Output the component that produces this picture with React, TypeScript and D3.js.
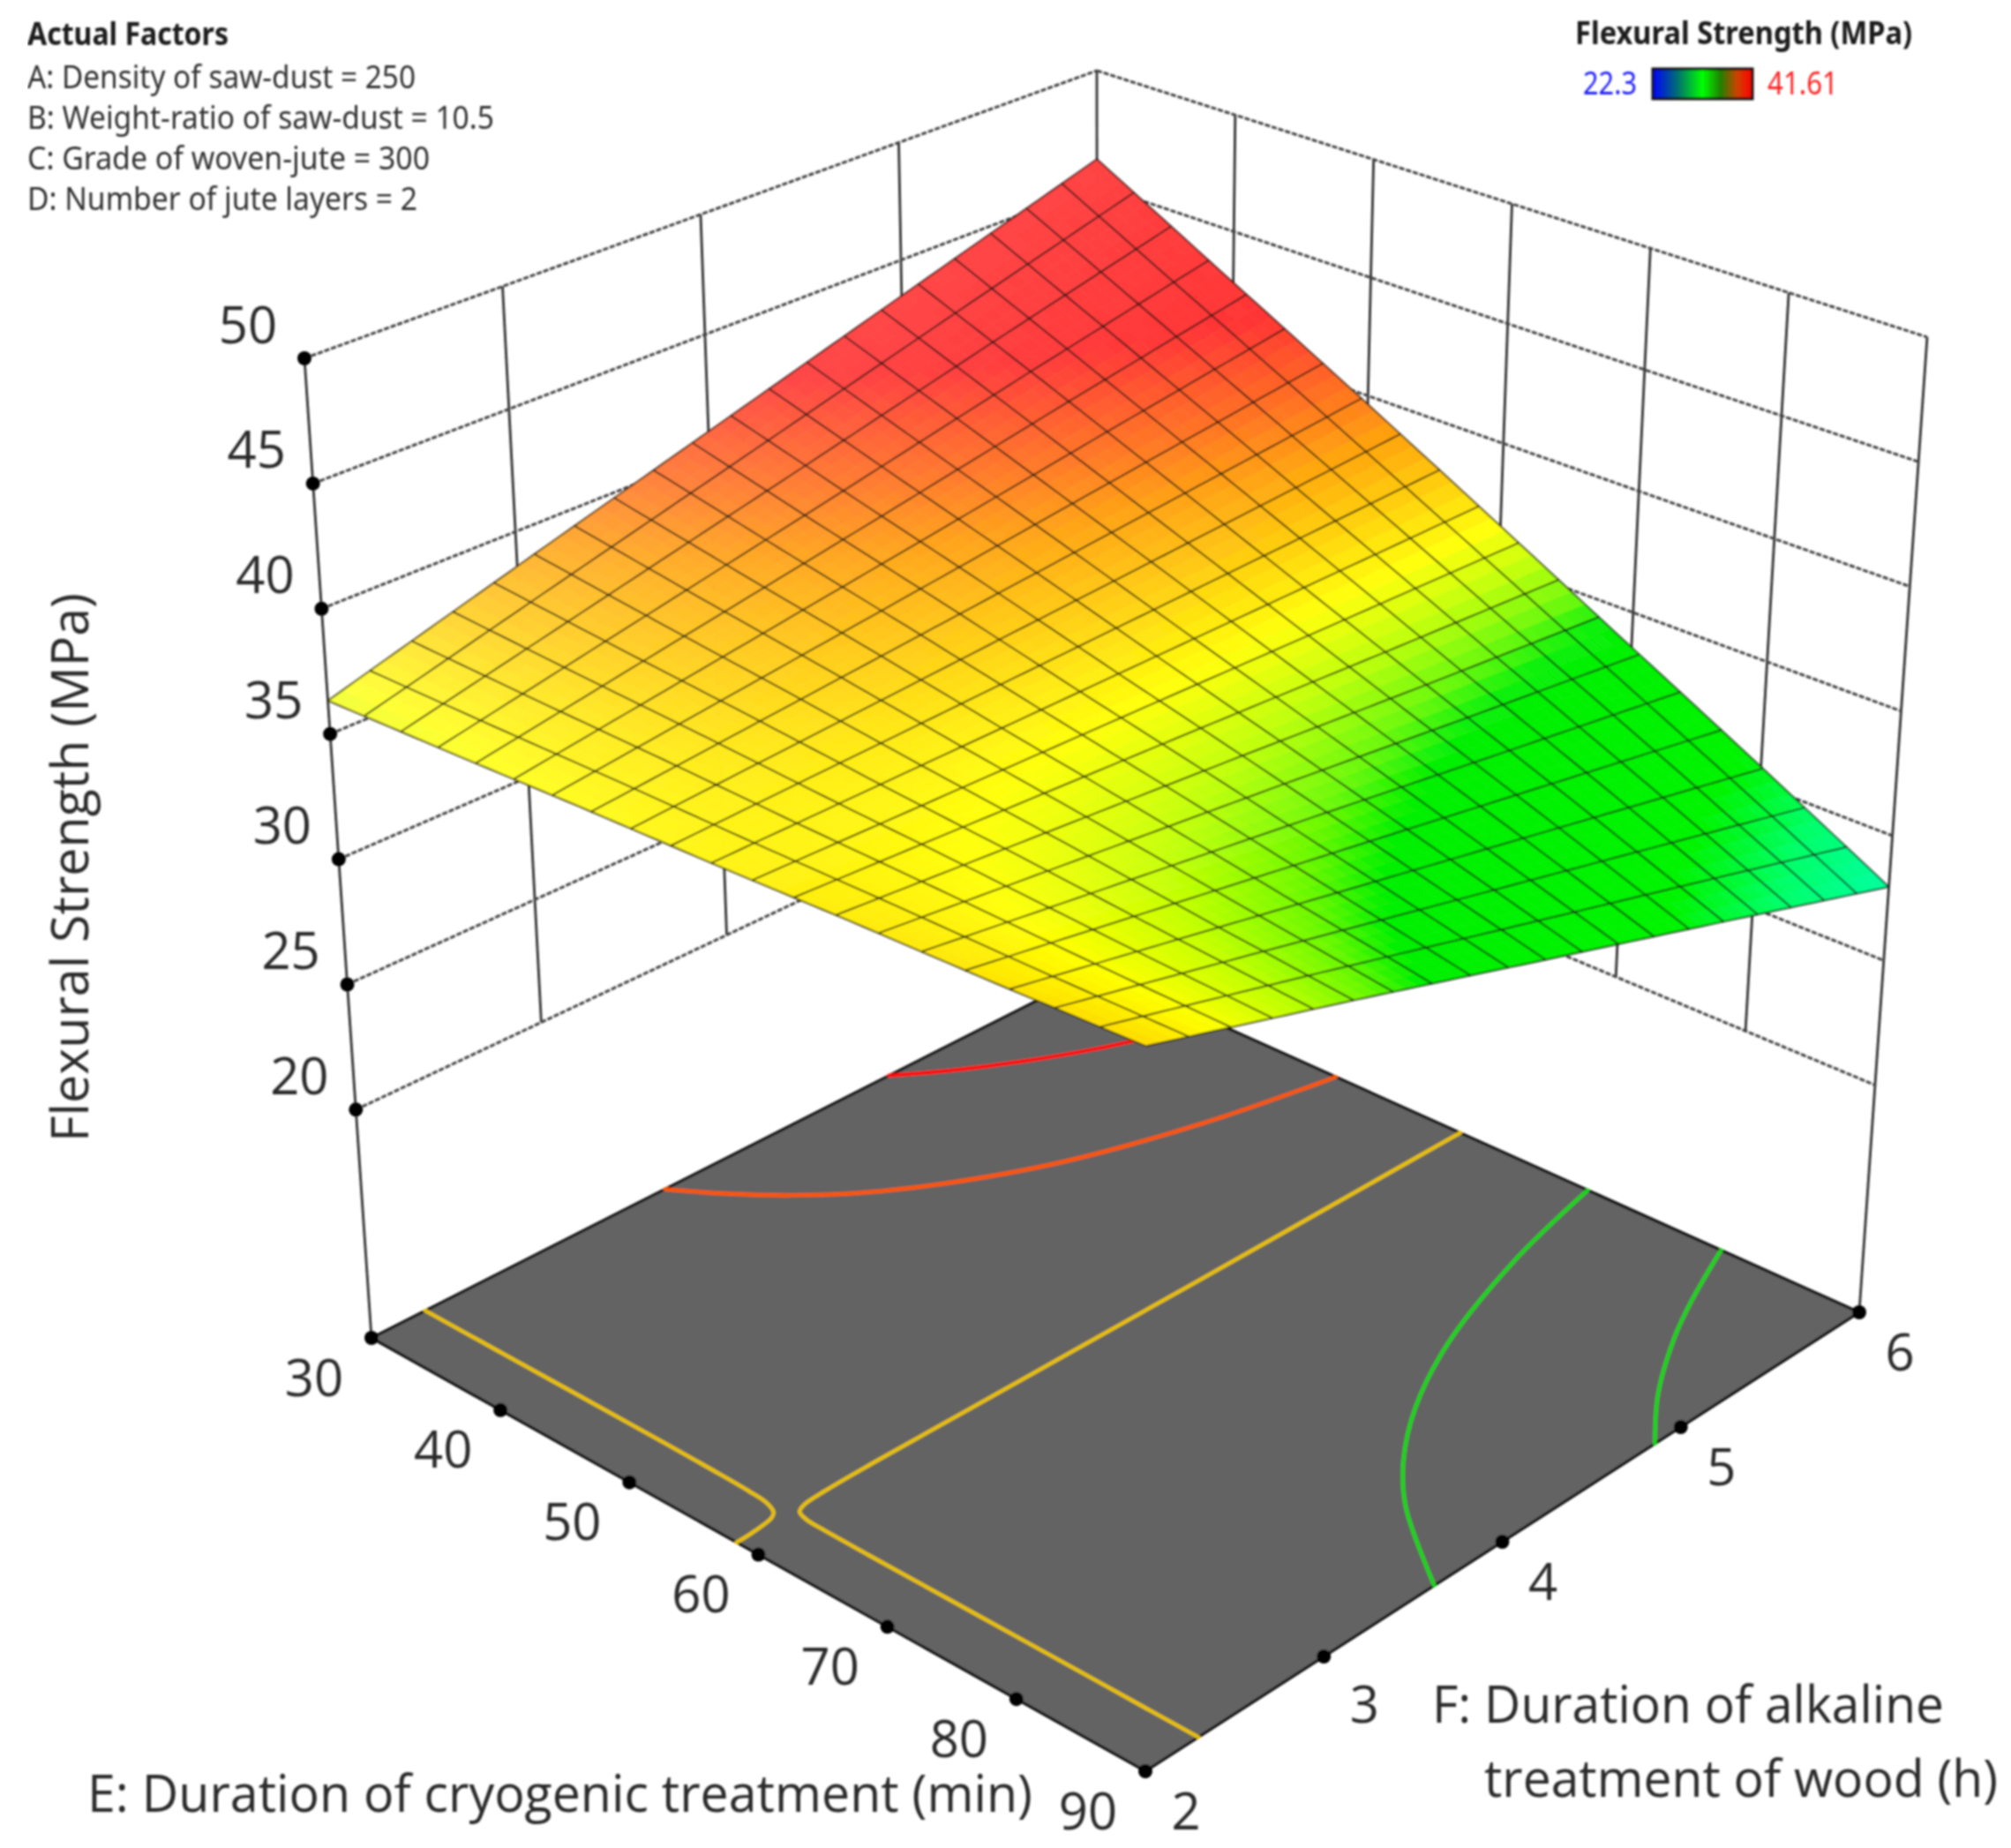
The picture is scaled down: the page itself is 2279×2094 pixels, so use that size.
import React from 'react'
import * as d3 from 'd3'

// axis ticks
const eTicks = [30, 40, 50, 60, 70, 80, 90]
const fTicks = [2, 3, 4, 5, 6]
const zTicks = [20, 25, 30, 35, 40, 45, 50]

// surface height read at the tick crossings, one list per F tick, E going 30 -> 90
const zAtF2 = [36.33, 36.5, 36.7, 36.85, 37.05, 37.2, 37.4]
const zAtF3 = [38.8, 38.15, 37.55, 36.9, 36.3, 35.65, 35.05]
const zAtF4 = [41.25, 39.8, 38.4, 36.95, 35.55, 34.1, 32.65]
const zAtF5 = [43.7, 41.5, 39.25, 37.0, 34.75, 32.55, 30.3]
const zAtF6 = [46.15, 43.1, 40.1, 37.05, 34.0, 31.0, 27.95]
const surfaceRows = [zAtF2, zAtF3, zAtF4, zAtF5, zAtF6]

// floor contours as [E, F] pairs
const contourRed = [[30, 4.756], [32.4, 4.968], [34.8, 5.224], [37.2, 5.534], [40.08, 6]]
const contourOrange = [[30, 3.51], [33, 3.65], [36, 3.82], [39, 4.04], [42, 4.34], [45, 4.74], [48, 5.35], [49.8, 5.89], [50.1, 6]]
const contourYellowLeft = [[30, 2.267], [36, 2.266], [42, 2.266], [48, 2.265], [54, 2.262], [57, 2.257], [58.5, 2.248], [59.4, 2.224], [59.7, 2.196], [60, 2.076], [60.05, 2]]
const contourYellowRight = [[60.1, 6], [60.05, 4.4], [59.95, 3.2], [59.9, 2.7], [59.95, 2.45], [60.1, 2.33], [60.4, 2.29], [61.2, 2.272], [62.5, 2.268], [66, 2.266], [78, 2.266], [90, 2.264]]
const contourGreenA = [[90, 3.5], [84, 3.81], [81, 4.03], [78, 4.33], [75, 4.75], [72, 5.38], [70, 6]]
const contourGreenB = [[90, 4.75], [87, 5.02], [84, 5.37], [82.2, 5.63], [80, 6]]

const contours = [
  { points: contourRed, color: '#ff1010' },
  { points: contourOrange, color: '#ff5500' },
  { points: contourYellowLeft, color: '#e8c000' },
  { points: contourYellowRight, color: '#e8c000' },
  { points: contourGreenA, color: '#14d814' },
  { points: contourGreenB, color: '#14d814' },
]

// surface colour ramp
const rampValues = [28, 29.6, 31, 34.2, 34.8, 35.7, 36.6, 37.7, 39, 40, 41.9, 46]
const rampColors = ['#00ffa0', '#00ff66', '#00f400', '#00f000', '#66f800', '#bfff00', '#ffff00', '#ffcc00', '#ff9900', '#ff6a10', '#ff2222', '#ff2a2a']

const factorLines = [
  'A: Density of saw-dust = 250',
  'B: Weight-ratio of saw-dust = 10.5',
  'C: Grade of woven-jute = 300',
  'D: Number of jute layers = 2',
]
const factorWidths = [440, 529, 456, 442]

// box corners in the picture: floor, and the plane at z = 50
const FLOOR = { left: [421, 1516], front: [1298, 2007], right: [2107, 1487], back: [1244, 1099] }
const TOP = { left: [345, 406], front: [1299, 795], right: [2184, 382], back: [1243, 80] }

const lerp = (a, b, t) => a + (b - a) * t
const mix = (p, q, t) => [lerp(p[0], q[0], t), lerp(p[1], q[1], t)]

// unit square -> quad
const homography = (p0, p1, p2, p3) => {
  const dx1 = p1[0] - p2[0], dx2 = p3[0] - p2[0], sx = p0[0] - p1[0] + p2[0] - p3[0]
  const dy1 = p1[1] - p2[1], dy2 = p3[1] - p2[1], sy = p0[1] - p1[1] + p2[1] - p3[1]
  const det = dx1 * dy2 - dx2 * dy1
  const g = (sx * dy2 - dx2 * sy) / det
  const h = (dx1 * sy - sx * dy1) / det
  const a = p1[0] - p0[0] + g * p1[0], b = p3[0] - p0[0] + h * p3[0]
  const d = p1[1] - p0[1] + g * p1[1], e = p3[1] - p0[1] + h * p3[1]
  return (u, v) => {
    const w = g * u + h * v + 1
    return [(a * u + b * v + p0[0]) / w, (d * u + e * v + p0[1]) / w]
  }
}

const floorAt = homography(FLOOR.left, FLOOR.front, FLOOR.right, FLOOR.back)
const topAt = homography(TOP.left, TOP.front, TOP.right, TOP.back)

const uScale = d3.scaleLinear().domain([30, 90]).range([0, 1])
const vScale = d3.scaleLinear().domain([2, 6]).range([0, 1])
const wScale = d3.scaleLinear().domain([20, 50]).range([0.233, 1])

// the mesh and contours follow the perspective
const project = (u, v, w) => mix(floorAt(u, v), topAt(u, v), w)

// the tick marks and wall lines are spaced evenly along the box edges
const edgeE = (e) => mix(FLOOR.left, FLOOR.front, uScale(e))
const edgeF = (f) => mix(FLOOR.front, FLOOR.right, vScale(f))
const leftWall = (f, w) => mix(mix(FLOOR.left, FLOOR.back, vScale(f)), mix(TOP.left, TOP.back, vScale(f)), w)
const rightWall = (e, w) => mix(mix(FLOOR.back, FLOOR.right, uScale(e)), mix(TOP.back, TOP.right, uScale(e)), w)

const rowScales = surfaceRows.map((row) => d3.scaleLinear().domain(eTicks).range(row))
const surfaceZ = (u, v) => {
  const e = uScale.invert(u)
  const f = vScale.invert(v)
  return d3.scaleLinear().domain(fTicks).range(rowScales.map((s) => s(e)))(f)
}

const colorScale = d3.scaleLinear().domain(rampValues).range(rampColors).interpolate(d3.interpolateRgb).clamp(true)

const surfaceColor = (u, v) => {
  const base = colorScale(surfaceZ(u, v))
  return d3.interpolateRgb(base, '#ffffff')((0.24 - 0.12 * v) * Math.pow(1 - u, 1.4))
}

const line = d3.line()
const smooth = d3.line().curve(d3.curveCatmullRom.alpha(0.5))

const N = 20
const SUB = 3

const Surface = () => {
  const cells = []
  const total = N * SUB
  const node = (i, j) => {
    const u = i / total, v = j / total
    return project(u, v, wScale(surfaceZ(u, v)))
  }
  for (let i = 0; i < total; i++) {
    for (let j = 0; j < total; j++) {
      const c = surfaceColor((i + 0.5) / total, (j + 0.5) / total)
      cells.push(
        <path
          key={`c${i}-${j}`}
          d={line([node(i, j), node(i + 1, j), node(i + 1, j + 1), node(i, j + 1)]) + 'Z'}
          fill={c}
          stroke={c}
          strokeWidth={0.7}
        />
      )
    }
  }
  const grid = []
  for (let k = 0; k <= N; k++) {
    const along = d3.range(0, total + 1)
    grid.push(<path key={`u${k}`} d={line(along.map((s) => node(k * SUB, s)))} />)
    grid.push(<path key={`v${k}`} d={line(along.map((s) => node(s, k * SUB)))} />)
  }
  return (
    <g>
      {cells}
      <g fill="none" stroke="#111" strokeOpacity={0.72} strokeWidth={2}>{grid}</g>
    </g>
  )
}

const Walls = () => {
  const zMin = wScale(20)
  return (
    <g fill="none">
      <g stroke="#333" strokeWidth={2.8}>
        {fTicks.slice(1, -1).map((f) => (
          <path key={`lw${f}`} d={line([leftWall(f, zMin), leftWall(f, 1)])} />
        ))}
        {eTicks.slice(1, -1).map((e) => (
          <path key={`rw${e}`} d={line([rightWall(e, zMin), rightWall(e, 1)])} />
        ))}
        <path d={line([FLOOR.back, TOP.back])} />
        <path d={line([FLOOR.left, TOP.left])} />
        <path d={line([FLOOR.right, TOP.right])} />
      </g>
      <g stroke="#444" strokeWidth={3} strokeDasharray="6 2">
        {zTicks.map((z) => (
          <g key={`zl${z}`}>
            <path d={line([leftWall(2, wScale(z)), leftWall(6, wScale(z))])} />
            <path d={line([rightWall(30, wScale(z)), rightWall(90, wScale(z))])} />
          </g>
        ))}
      </g>
    </g>
  )
}

const Floor = () => (
  <g>
    <path d={line([FLOOR.left, FLOOR.front, FLOOR.right, FLOOR.back]) + 'Z'} fill="#636363" stroke="#111" strokeWidth={3.2} />
    <g fill="none" strokeWidth={4.4} strokeLinecap="round">
      {contours.map((c, i) => (
        <path
          key={`contour${i}`}
          stroke={c.color}
          d={smooth(c.points.map(([e, f]) => floorAt(uScale(e), vScale(f))))}
        />
      ))}
    </g>
  </g>
)

const Dots = () => (
  <g fill="#000">
    {eTicks.map((e) => {
      const [x, y] = edgeE(e)
      return <circle key={`de${e}`} cx={x} cy={y} r={8} />
    })}
    {fTicks.slice(1).map((f) => {
      const [x, y] = edgeF(f)
      return <circle key={`df${f}`} cx={x} cy={y} r={8} />
    })}
    {zTicks.map((z) => {
      const [x, y] = leftWall(2, wScale(z))
      return <circle key={`dz${z}`} cx={x} cy={y} r={8} />
    })}
  </g>
)

const TICK_FONT = { fontFamily: '"Open Sans", sans-serif', fontSize: 58, fill: '#2a2a2a', textAnchor: 'middle', dominantBaseline: 'central' }

const TickLabels = () => (
  <g>
    {zTicks.map((z) => {
      const [x, y] = leftWall(2, wScale(z))
      return <text key={`tz${z}`} x={x - 64} y={y - 40} {...TICK_FONT}>{z}</text>
    })}
    {eTicks.map((e) => {
      const [x, y] = edgeE(e)
      return <text key={`te${e}`} x={x - 65} y={y + 43} {...TICK_FONT}>{e}</text>
    })}
    {fTicks.map((f) => {
      const [x, y] = edgeF(f)
      // the 3 sits a little lower than the others in the picture
      return <text key={`tf${f}`} x={x + 46} y={y + (f === 3 ? 52 : 43)} {...TICK_FONT}>{f}</text>
    })}
  </g>
)

const TITLE_FONT = { fontFamily: '"Open Sans", sans-serif', fontSize: 58, fill: '#2a2a2a', lengthAdjust: 'spacingAndGlyphs' }
const SMALL_FONT = { fontFamily: '"Noto Sans", sans-serif', fontSize: 36, fill: '#333', lengthAdjust: 'spacingAndGlyphs' }
const BOLD_FONT = { fontFamily: '"Noto Sans", sans-serif', fontSize: 35, fontWeight: 700, fill: '#1a1a1a', lengthAdjust: 'spacingAndGlyphs' }

const Titles = () => (
  <g>
    <text x={99} y={2053} textLength={1071} {...TITLE_FONT}>E: Duration of cryogenic treatment (min)</text>
    <text x={1623} y={1952} textLength={580} {...TITLE_FONT}>F: Duration of alkaline</text>
    <text x={1682} y={2036} textLength={582} {...TITLE_FONT}>treatment of wood (h)</text>
    <text transform="translate(100,1294) rotate(-90)" textLength={622} {...TITLE_FONT}>Flexural Strength (MPa)</text>
  </g>
)

const Notes = () => (
  <g filter="url(#softer)">
    <text x={31} y={51} textLength={228} {...BOLD_FONT}>Actual Factors</text>
    {factorLines.map((t, i) => (
      <text key={t} x={31} y={100 + i * 46} textLength={factorWidths[i]} {...SMALL_FONT}>{t}</text>
    ))}
    <text x={1785} y={50} textLength={382} {...BOLD_FONT}>Flexural Strength (MPa)</text>
    <text x={1794} y={107} textLength={61} {...SMALL_FONT} fill="#2222ff">22.3</text>
    <rect x={1873} y={78} width={113} height={34} fill="url(#legendRamp)" stroke="#111" strokeWidth={3} />
    <text x={2003} y={107} textLength={80} {...SMALL_FONT} fill="#ff2020">41.61</text>
  </g>
)

const App = () => (
  <svg width={2279} height={2094} style={{ position: 'absolute', left: 0, top: 0, background: '#fff' }}>
    <defs>
      <linearGradient id="legendRamp">
        <stop offset="0" stopColor="#0000ff" />
        <stop offset="0.25" stopColor="#007070" />
        <stop offset="0.5" stopColor="#00ff00" />
        <stop offset="0.68" stopColor="#208000" />
        <stop offset="0.85" stopColor="#d04000" />
        <stop offset="1" stopColor="#ff0000" />
      </linearGradient>
      <filter id="soft" x="0" y="0" width="100%" height="100%">
        <feGaussianBlur stdDeviation="0.9" />
      </filter>
      <filter id="softer" x="-5%" y="-5%" width="110%" height="110%">
        <feGaussianBlur stdDeviation="0.6" />
      </filter>
    </defs>
    <g filter="url(#soft)">
      <Walls />
      <Floor />
      <Dots />
      <Surface />
      <TickLabels />
      <Titles />
      <Notes />
    </g>
  </svg>
)

export default App
